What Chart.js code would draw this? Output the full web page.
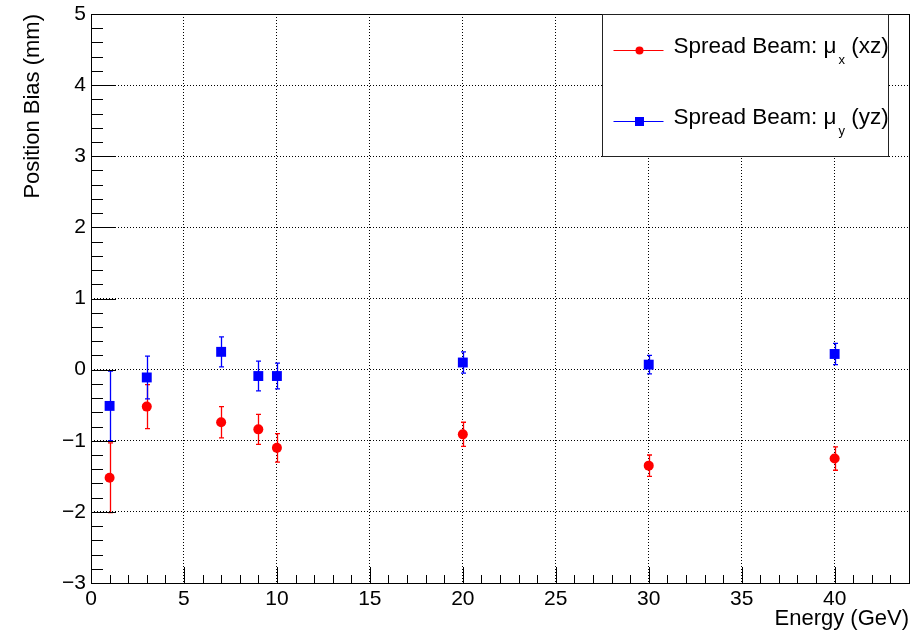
<!DOCTYPE html>
<html>
<head>
<meta charset="utf-8">
<script src="https://cdn.jsdelivr.net/npm/chart.js@4/dist/chart.umd.min.js"></script>
<style>
  html, body { margin: 0; padding: 0; background: #fff; }
  #wrap { width: 920px; height: 633px; }
</style>
</head>
<body>
<div id="wrap"><canvas id="c" width="920" height="633"></canvas></div>
<script>
// ---- data ----
const energies = [1, 3, 7, 9, 10, 20, 30, 40];
const muX      = [-1.52, -0.52, -0.74, -0.84, -1.10, -0.91, -1.35, -1.25];
const muXErr   = [0.49, 0.31, 0.22, 0.21, 0.20, 0.17, 0.15, 0.165];
const muY      = [-0.51, -0.11, 0.25, -0.09, -0.09, 0.10, 0.07, 0.22];
const muYErr   = [0.49, 0.30, 0.21, 0.21, 0.18, 0.15, 0.13, 0.15];
const xTickValues = [0, 5, 10, 15, 20, 25, 30, 35, 40];
const yTickValues = [-3, -2, -1, 0, 1, 2, 3, 4, 5];
const seriesNames = ['Spread Beam: \u03bc', 'Spread Beam: \u03bc'];
const seriesSubs  = ['x', 'y'];
const seriesTails = [' (xz)', ' (yz)'];
const xTitle = 'Energy (GeV)';
const yTitle = 'Position Bias (mm)';

const FONT = "'Liberation Sans', Arial, Helvetica, sans-serif";
const RED = '#ff0000', BLUE = '#0000ff';

function pts(xs, ys) { return xs.map((x, i) => ({ x: x, y: ys[i] })); }

const errorBars = {
  id: 'errorBars',
  beforeDatasetsDraw(chart) {
    const { ctx, scales: { x, y } } = chart;
    chart.data.datasets.forEach(ds => {
      ctx.save();
      ctx.strokeStyle = ds.borderColor;
      ctx.lineWidth = 1.3;
      ds.data.forEach((p, j) => {
        const e = ds.errors[j];
        const px = Math.round(x.getPixelForValue(p.x)) + 0.5;
        const yt = y.getPixelForValue(p.y + e);
        const yb = y.getPixelForValue(p.y - e);
        ctx.beginPath();
        ctx.moveTo(px, yt); ctx.lineTo(px, yb);
        ctx.moveTo(px - 2.5, yt); ctx.lineTo(px + 2.5, yt);
        ctx.moveTo(px - 2.5, yb); ctx.lineTo(px + 2.5, yb);
        ctx.stroke();
      });
      ctx.restore();
    });
  }
};

const frameTicks = {
  id: 'frameTicks',
  beforeDatasetsDraw(chart) {
    const { ctx, chartArea: a, scales: { x, y } } = chart;
    ctx.save();
    ctx.strokeStyle = '#000';
    ctx.lineWidth = 1;
    ctx.beginPath();
    const nY = Math.round((y.max - y.min) / 0.2);
    for (let i = 0; i <= nY; i++) {
      const v = y.min + i * 0.2;
      const major = i % 5 === 0;
      const py = Math.round(y.getPixelForValue(v)) + 0.5;
      ctx.moveTo(a.left, py);
      ctx.lineTo(a.left + (major ? 25 : 12), py);
    }
    for (let v = Math.ceil(x.min); v <= x.max; v++) {
      const major = v % 5 === 0;
      const px = Math.round(x.getPixelForValue(v)) + 0.5;
      ctx.moveTo(px, a.bottom);
      ctx.lineTo(px, a.bottom - (major ? 16 : 8));
    }
    ctx.stroke();
    ctx.strokeRect(Math.round(a.left) + 0.5, Math.round(a.top) + 0.5,
                   Math.round(a.right - a.left), Math.round(a.bottom - a.top));
    ctx.restore();
  }
};

const rootLegend = {
  id: 'rootLegend',
  afterDatasetsDraw(chart) {
    const { ctx, chartArea: a } = chart;
    const L = Math.round(a.right - 307) + 0.5, T = Math.round(a.top) + 0.5;
    const W = 286, H = 142;
    ctx.save();
    ctx.fillStyle = '#fff';
    ctx.fillRect(L, T, W, H);
    ctx.strokeStyle = '#222';
    ctx.lineWidth = 1;
    ctx.strokeRect(L, T, W, H);
    chart.data.datasets.forEach((ds, i) => {
      const rowY = T + 36 + i * 71;
      ctx.strokeStyle = ds.borderColor;
      ctx.beginPath();
      ctx.moveTo(L + 11, rowY); ctx.lineTo(L + 61, rowY);
      ctx.stroke();
      ctx.fillStyle = ds.backgroundColor;
      if (ds.pointStyle === 'rect') {
        ctx.fillRect(L + 37 - 4.5, rowY - 4.5, 9, 9);
      } else {
        ctx.beginPath(); ctx.arc(L + 37, rowY, 4, 0, Math.PI * 2); ctx.fill();
      }
      const base = rowY + 2;
      let tx = L + 71;
      ctx.fillStyle = '#000';
      ctx.textBaseline = 'alphabetic';
      ctx.textAlign = 'left';
      ctx.font = '22.5px ' + FONT;
      ctx.fillText(seriesNames[i], tx, base);
      tx += ctx.measureText(seriesNames[i]).width + 2;
      ctx.font = '13px ' + FONT;
      ctx.fillText(seriesSubs[i], tx, base + 11.5);
      tx += ctx.measureText(seriesSubs[i]).width;
      ctx.font = '22.5px ' + FONT;
      ctx.fillText(seriesTails[i], tx, base);
    });
    ctx.restore();
  }
};

const gridCommon = { color: '#000', lineWidth: 1, drawTicks: false };

new Chart(document.getElementById('c'), {
  type: 'scatter',
  data: {
    datasets: [
      { label: 'mu_x', data: pts(energies, muX), errors: muXErr,
        borderColor: RED, backgroundColor: RED, pointStyle: 'circle',
        pointRadius: 5, pointBorderWidth: 0, showLine: false },
      { label: 'mu_y', data: pts(energies, muY), errors: muYErr,
        borderColor: BLUE, backgroundColor: BLUE, pointStyle: 'rect',
        pointRadius: 7, pointBorderWidth: 0, showLine: false }
    ]
  },
  options: {
    responsive: false,
    animation: false,
    events: [],
    layout: { padding: { top: 14, right: 11, left: 0, bottom: 0 } },
    plugins: { legend: { display: false }, tooltip: { enabled: false } },
    scales: {
      x: {
        type: 'linear', min: 0, max: 44,
        grid: gridCommon,
        border: { display: false, dash: [1, 2] },
        afterBuildTicks: s => { s.ticks = xTickValues.map(v => ({ value: v })); },
        afterFit: s => { s.height = 50; s.paddingLeft = 0; s.paddingRight = 0; },
        ticks: { color: '#000', padding: 4, maxRotation: 0, autoSkip: false,
                 font: { family: FONT, size: 21 } },
        title: { display: true, text: xTitle, align: 'end', color: '#000',
                 font: { family: FONT, size: 22 }, padding: { top: 0, bottom: 1 } }
      },
      y: {
        type: 'linear', min: -3, max: 5,
        grid: gridCommon,
        border: { display: false, dash: [1, 2] },
        afterBuildTicks: s => { s.ticks = yTickValues.map(v => ({ value: v })); },
        afterFit: s => { s.width = 91; s.paddingTop = 0; s.paddingBottom = 0; },
        ticks: { color: '#000', padding: 5, autoSkip: false,
                 font: { family: FONT, size: 21 },
                 callback: v => (v < 0 ? '\u2212' + Math.abs(v) : String(v)) },
        title: { display: true, text: yTitle, align: 'end', color: '#000',
                 font: { family: FONT, size: 22 }, padding: { top: 20, bottom: 0 } }
      }
    }
  },
  plugins: [errorBars, frameTicks, rootLegend]
});
</script>
</body>
</html>
